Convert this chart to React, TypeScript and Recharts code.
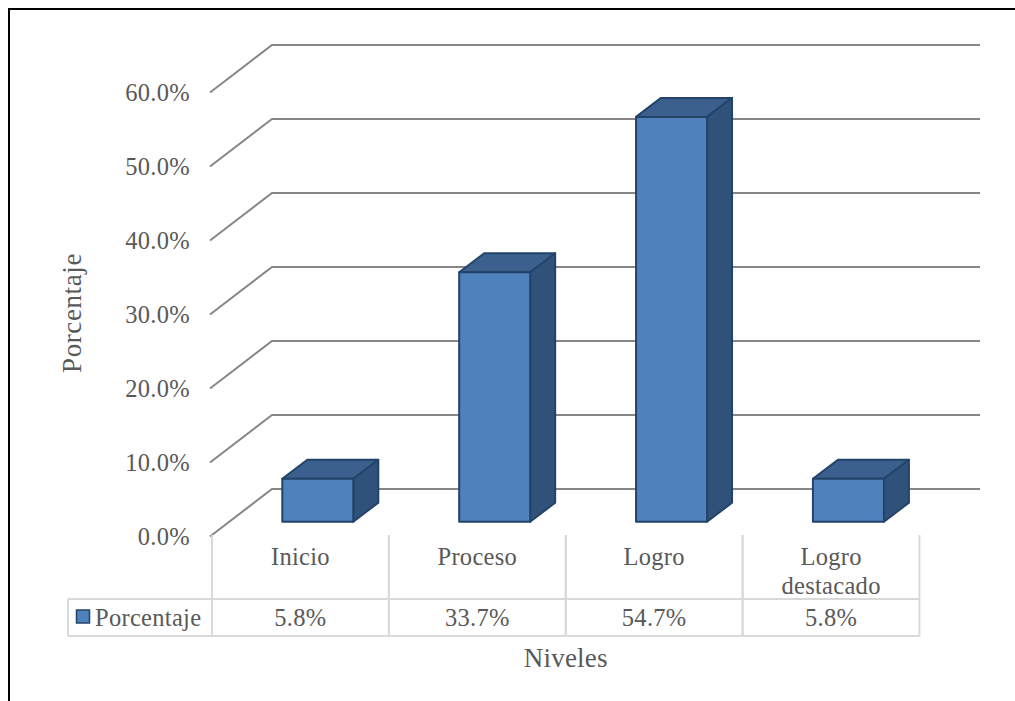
import { BarChart, Bar, XAxis, YAxis, CartesianGrid } from "recharts";

const niveles = ["Inicio", "Proceso", "Logro", "Logro destacado"];
const porcentaje = [5.8, 33.7, 54.7, 5.8];
const yTicks = [0, 10, 20, 30, 40, 50, 60];
const seriesName = "Porcentaje";

const data = niveles.map((nivel, i) => ({ nivel, porcentaje: porcentaje[i] }));

const FONT = "'Liberation Serif', serif";
const TEXT = "#595959";
const TABLE_LINE = "#D9D9D9";
const GRID = "#868686";

// depth of the floor and depth of each box
const WALL_DX = 60;
const WALL_DY = 46;
const BOX_SHIFT_X = 17.3;
const BOX_SHIFT_Y = 13.3;
const BOX_DX = 25;
const BOX_DY = 19;

const textStyle = { fontFamily: FONT, fontSize: 24.5, fill: TEXT, letterSpacing: 0.3 };
const titleStyle = { fontFamily: FONT, fontSize: 27, fill: TEXT };

const GridLine = (props: any) => {
  const { x1, x2, y1, key } = props;
  return (
    <path
      key={key ?? y1}
      d={`M${x1 - 2},${y1 + 1.5}L${x1 + WALL_DX},${y1 - WALL_DY}L${x2 + WALL_DX + 0.5},${y1 - WALL_DY}`}
      fill="none"
      stroke={GRID}
      strokeWidth={2}
    />
  );
};

const Box = (props: any) => {
  const { x, y, width, height } = props;
  const l = x + BOX_SHIFT_X;
  const r = l + width;
  const t = y - BOX_SHIFT_Y;
  const b = t + height;
  const stroke = "#234468";
  return (
    <g stroke={stroke} strokeWidth={2} strokeLinejoin="round">
      <path d={`M${l},${t}L${l + BOX_DX},${t - BOX_DY}L${r + BOX_DX},${t - BOX_DY}L${r},${t}Z`} fill="#3B608E" />
      <path d={`M${r},${t}L${r + BOX_DX},${t - BOX_DY}L${r + BOX_DX},${b - BOX_DY}L${r},${b}Z`} fill="#305179" />
      <rect x={l} y={t} width={width} height={height} fill="#4F81BD" />
    </g>
  );
};

const ValueTick = (props: any) => {
  const { x, y, payload } = props;
  return (
    <text x={x} y={y + 9.5} textAnchor="end" style={textStyle}>
      {payload.value.toFixed(1)}%
    </text>
  );
};

// category label plus its column of the data table
const TableTick = (props: any) => {
  const { x, index, payload } = props;
  const half = 88.4;
  const top = 535;
  const row = 599;
  const bottom = 636;
  const words = niveles[index] === "Logro destacado" ? String(payload.value).split(" ") : [payload.value];
  return (
    <g>
      <g stroke={TABLE_LINE} strokeWidth={2}>
        <line x1={x - half} x2={x - half} y1={top} y2={bottom} />
        <line x1={x + half} x2={x + half} y1={top} y2={bottom} />
        <line x1={x - half} x2={x + half} y1={row} y2={row} />
        <line x1={x - half} x2={x + half} y1={bottom} y2={bottom} />
      </g>
      {words.map((w: string, i: number) => (
        <text key={w} x={x} y={565 + i * 29} textAnchor="middle" style={textStyle}>
          {w}
        </text>
      ))}
      <text x={x} y={625.5} textAnchor="middle" style={textStyle}>
        {porcentaje[index].toFixed(1)}%
      </text>
      {index === 0 && (
        <g>
          <g stroke={TABLE_LINE} strokeWidth={2}>
            <line x1={68} x2={x - half} y1={row} y2={row} />
            <line x1={68} x2={x - half} y1={bottom} y2={bottom} />
            <line x1={68} x2={68} y1={row} y2={bottom} />
          </g>
          <rect x={76.5} y={610} width={13} height={13} fill="#4F81BD" stroke="#234468" strokeWidth={1.5} />
          <text x={95} y={625.5} style={textStyle}>
            {seriesName}
          </text>
        </g>
      )}
    </g>
  );
};

const App = () => {
  return (
    <div style={{ position: "absolute", left: 0, top: 0, width: 1015, height: 701, background: "#fff", overflow: "hidden" }}>
      <div style={{ position: "absolute", left: 8, top: 8, width: 1015, height: 701, borderLeft: "2px solid #000", borderTop: "2px solid #000" }} />
      <div style={{ position: "absolute", left: 0, top: 0 }}>
        <BarChart
          width={1015}
          height={701}
          data={data}
          margin={{ top: 91, right: 95.5, bottom: 6, left: 0 }}
        >
          <CartesianGrid vertical={false} horizontal={(p: any) => <GridLine {...p} />} />
          <XAxis
            dataKey="nivel"
            height={160}
            interval={0}
            axisLine={false}
            tickLine={false}
            tick={(p: any) => <TableTick {...p} />}
            label={{ value: "Niveles", position: "insideBottom", offset: 28, style: { ...titleStyle, letterSpacing: 0.2 } }}
          />
          <YAxis
            width={212}
            domain={[0, 60]}
            ticks={yTicks}
            axisLine={false}
            tickLine={false}
            tickSize={0}
            tickMargin={22}
            tick={(p: any) => <ValueTick {...p} />}
            label={{ value: "Porcentaje", angle: -90, position: "insideLeft", offset: 71, style: { ...titleStyle, letterSpacing: 0.6, textAnchor: "middle" } }}
          />
          <Bar dataKey="porcentaje" barSize={71} isAnimationActive={false} shape={(p: any) => <Box {...p} />} />
        </BarChart>
      </div>
    </div>
  );
};

export default App;
